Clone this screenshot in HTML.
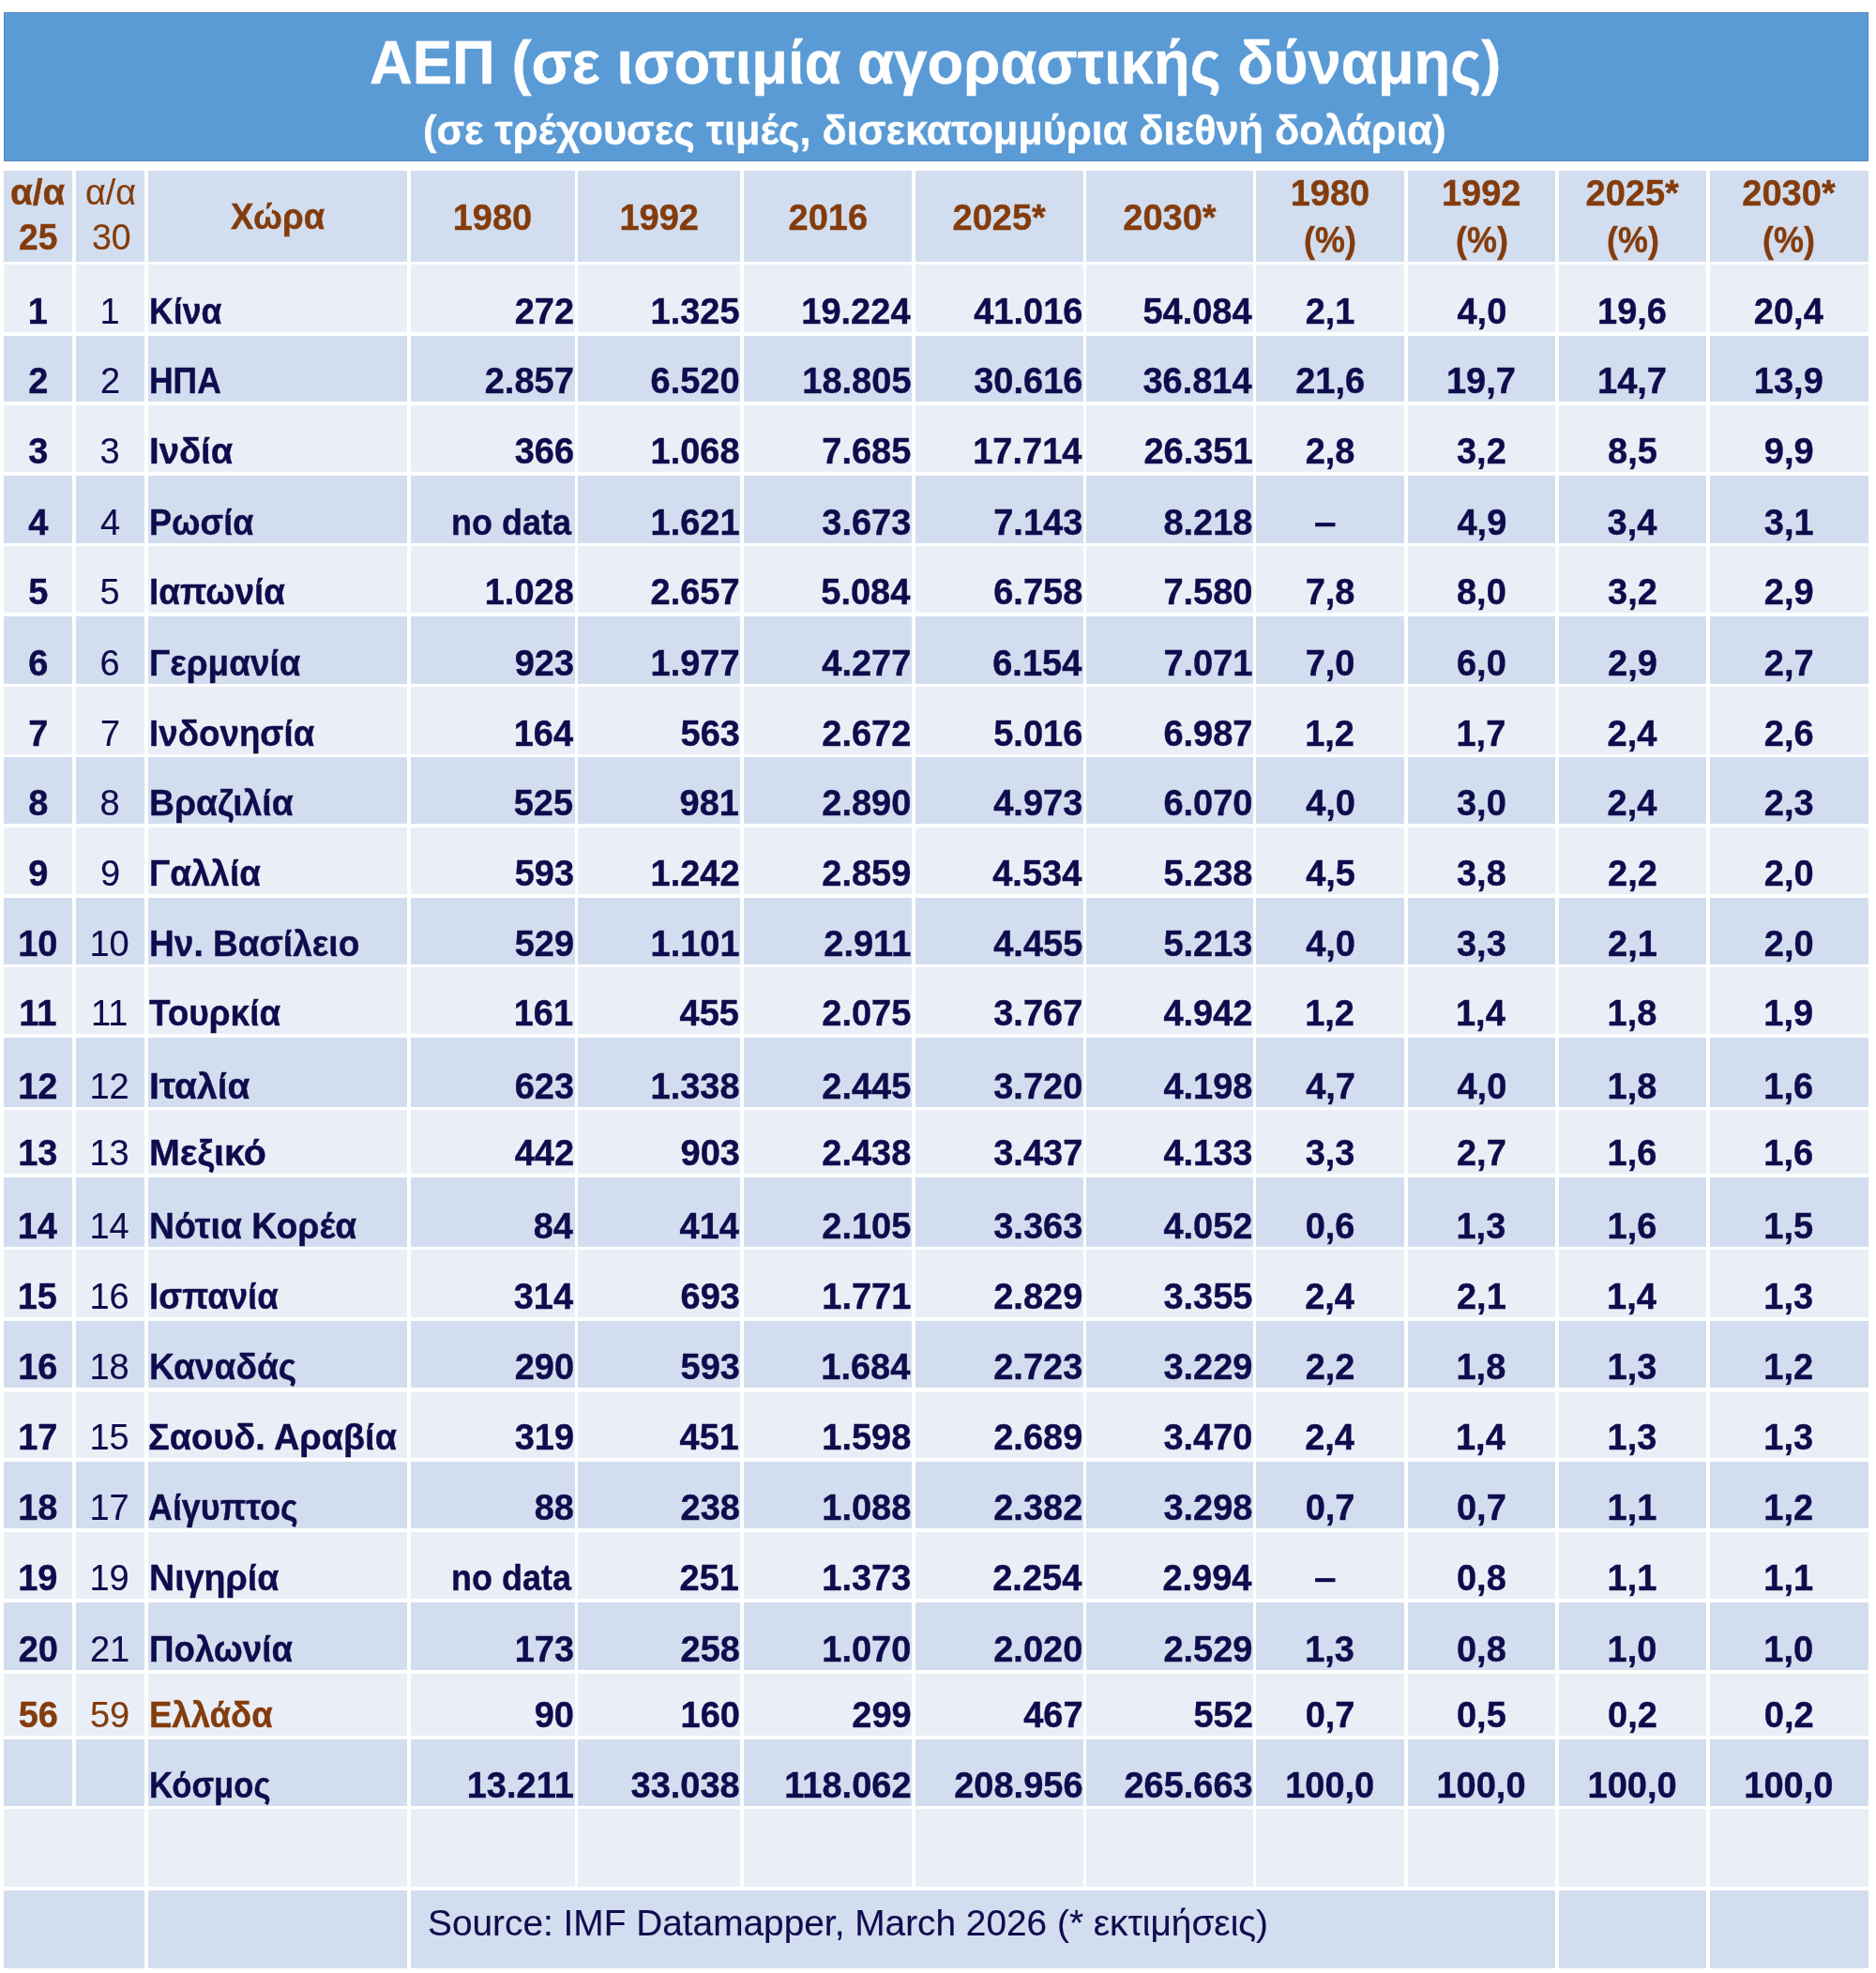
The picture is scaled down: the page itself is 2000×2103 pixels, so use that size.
<!DOCTYPE html>
<html><head><meta charset="utf-8"><title>ΑΕΠ</title>
<style>
html,body{margin:0;padding:0;background:#FFFFFF;}
body{width:2000px;height:2103px;position:relative;overflow:hidden;font-family:"Liberation Sans",sans-serif;}
.c{position:absolute;}
.t{position:absolute;white-space:nowrap;}
.b{font-weight:700;-webkit-text-stroke:0.40px currentColor;}
.r{font-weight:400;-webkit-text-stroke:0.15px currentColor;}
</style></head><body>
<div class="c" style="left:4.00px;top:13.00px;width:1988.00px;height:159.30px;background:#5B9BD5;box-shadow:inset 0 0 0 1px #5A88B8;"></div>
<div class="c" style="left:4.00px;top:182.00px;width:73.30px;height:96.50px;background:#D2DEEF;"></div>
<div class="c" style="left:80.80px;top:182.00px;width:73.20px;height:96.50px;background:#D2DEEF;"></div>
<div class="c" style="left:157.80px;top:182.00px;width:276.40px;height:96.50px;background:#D2DEEF;"></div>
<div class="c" style="left:437.70px;top:182.00px;width:175.00px;height:96.50px;background:#D2DEEF;"></div>
<div class="c" style="left:616.30px;top:182.00px;width:173.20px;height:96.50px;background:#D2DEEF;"></div>
<div class="c" style="left:792.70px;top:182.00px;width:179.60px;height:96.50px;background:#D2DEEF;"></div>
<div class="c" style="left:975.80px;top:182.00px;width:179.40px;height:96.50px;background:#D2DEEF;"></div>
<div class="c" style="left:1158.20px;top:182.00px;width:178.20px;height:96.50px;background:#D2DEEF;"></div>
<div class="c" style="left:1339.30px;top:182.00px;width:157.70px;height:96.50px;background:#D2DEEF;"></div>
<div class="c" style="left:1500.70px;top:182.00px;width:157.50px;height:96.50px;background:#D2DEEF;"></div>
<div class="c" style="left:1661.70px;top:182.00px;width:157.70px;height:96.50px;background:#D2DEEF;"></div>
<div class="c" style="left:1822.90px;top:182.00px;width:168.90px;height:96.50px;background:#D2DEEF;"></div>
<div class="c" style="left:4.00px;top:282.00px;width:73.30px;height:71.60px;background:#EAEFF7;"></div>
<div class="c" style="left:80.80px;top:282.00px;width:73.20px;height:71.60px;background:#EAEFF7;"></div>
<div class="c" style="left:157.80px;top:282.00px;width:276.40px;height:71.60px;background:#EAEFF7;"></div>
<div class="c" style="left:437.70px;top:282.00px;width:175.00px;height:71.60px;background:#EAEFF7;"></div>
<div class="c" style="left:616.30px;top:282.00px;width:173.20px;height:71.60px;background:#EAEFF7;"></div>
<div class="c" style="left:792.70px;top:282.00px;width:179.60px;height:71.60px;background:#EAEFF7;"></div>
<div class="c" style="left:975.80px;top:282.00px;width:179.40px;height:71.60px;background:#EAEFF7;"></div>
<div class="c" style="left:1158.20px;top:282.00px;width:178.20px;height:71.60px;background:#EAEFF7;"></div>
<div class="c" style="left:1339.30px;top:282.00px;width:157.70px;height:71.60px;background:#EAEFF7;"></div>
<div class="c" style="left:1500.70px;top:282.00px;width:157.50px;height:71.60px;background:#EAEFF7;"></div>
<div class="c" style="left:1661.70px;top:282.00px;width:157.70px;height:71.60px;background:#EAEFF7;"></div>
<div class="c" style="left:1822.90px;top:282.00px;width:168.90px;height:71.60px;background:#EAEFF7;"></div>
<div class="c" style="left:4.00px;top:357.50px;width:73.30px;height:70.90px;background:#D2DEEF;"></div>
<div class="c" style="left:80.80px;top:357.50px;width:73.20px;height:70.90px;background:#D2DEEF;"></div>
<div class="c" style="left:157.80px;top:357.50px;width:276.40px;height:70.90px;background:#D2DEEF;"></div>
<div class="c" style="left:437.70px;top:357.50px;width:175.00px;height:70.90px;background:#D2DEEF;"></div>
<div class="c" style="left:616.30px;top:357.50px;width:173.20px;height:70.90px;background:#D2DEEF;"></div>
<div class="c" style="left:792.70px;top:357.50px;width:179.60px;height:70.90px;background:#D2DEEF;"></div>
<div class="c" style="left:975.80px;top:357.50px;width:179.40px;height:70.90px;background:#D2DEEF;"></div>
<div class="c" style="left:1158.20px;top:357.50px;width:178.20px;height:70.90px;background:#D2DEEF;"></div>
<div class="c" style="left:1339.30px;top:357.50px;width:157.70px;height:70.90px;background:#D2DEEF;"></div>
<div class="c" style="left:1500.70px;top:357.50px;width:157.50px;height:70.90px;background:#D2DEEF;"></div>
<div class="c" style="left:1661.70px;top:357.50px;width:157.70px;height:70.90px;background:#D2DEEF;"></div>
<div class="c" style="left:1822.90px;top:357.50px;width:168.90px;height:70.90px;background:#D2DEEF;"></div>
<div class="c" style="left:4.00px;top:432.00px;width:73.30px;height:71.00px;background:#EAEFF7;"></div>
<div class="c" style="left:80.80px;top:432.00px;width:73.20px;height:71.00px;background:#EAEFF7;"></div>
<div class="c" style="left:157.80px;top:432.00px;width:276.40px;height:71.00px;background:#EAEFF7;"></div>
<div class="c" style="left:437.70px;top:432.00px;width:175.00px;height:71.00px;background:#EAEFF7;"></div>
<div class="c" style="left:616.30px;top:432.00px;width:173.20px;height:71.00px;background:#EAEFF7;"></div>
<div class="c" style="left:792.70px;top:432.00px;width:179.60px;height:71.00px;background:#EAEFF7;"></div>
<div class="c" style="left:975.80px;top:432.00px;width:179.40px;height:71.00px;background:#EAEFF7;"></div>
<div class="c" style="left:1158.20px;top:432.00px;width:178.20px;height:71.00px;background:#EAEFF7;"></div>
<div class="c" style="left:1339.30px;top:432.00px;width:157.70px;height:71.00px;background:#EAEFF7;"></div>
<div class="c" style="left:1500.70px;top:432.00px;width:157.50px;height:71.00px;background:#EAEFF7;"></div>
<div class="c" style="left:1661.70px;top:432.00px;width:157.70px;height:71.00px;background:#EAEFF7;"></div>
<div class="c" style="left:1822.90px;top:432.00px;width:168.90px;height:71.00px;background:#EAEFF7;"></div>
<div class="c" style="left:4.00px;top:506.80px;width:73.30px;height:72.00px;background:#D2DEEF;"></div>
<div class="c" style="left:80.80px;top:506.80px;width:73.20px;height:72.00px;background:#D2DEEF;"></div>
<div class="c" style="left:157.80px;top:506.80px;width:276.40px;height:72.00px;background:#D2DEEF;"></div>
<div class="c" style="left:437.70px;top:506.80px;width:175.00px;height:72.00px;background:#D2DEEF;"></div>
<div class="c" style="left:616.30px;top:506.80px;width:173.20px;height:72.00px;background:#D2DEEF;"></div>
<div class="c" style="left:792.70px;top:506.80px;width:179.60px;height:72.00px;background:#D2DEEF;"></div>
<div class="c" style="left:975.80px;top:506.80px;width:179.40px;height:72.00px;background:#D2DEEF;"></div>
<div class="c" style="left:1158.20px;top:506.80px;width:178.20px;height:72.00px;background:#D2DEEF;"></div>
<div class="c" style="left:1339.30px;top:506.80px;width:157.70px;height:72.00px;background:#D2DEEF;"></div>
<div class="c" style="left:1500.70px;top:506.80px;width:157.50px;height:72.00px;background:#D2DEEF;"></div>
<div class="c" style="left:1661.70px;top:506.80px;width:157.70px;height:72.00px;background:#D2DEEF;"></div>
<div class="c" style="left:1822.90px;top:506.80px;width:168.90px;height:72.00px;background:#D2DEEF;"></div>
<div class="c" style="left:4.00px;top:582.10px;width:73.30px;height:71.20px;background:#EAEFF7;"></div>
<div class="c" style="left:80.80px;top:582.10px;width:73.20px;height:71.20px;background:#EAEFF7;"></div>
<div class="c" style="left:157.80px;top:582.10px;width:276.40px;height:71.20px;background:#EAEFF7;"></div>
<div class="c" style="left:437.70px;top:582.10px;width:175.00px;height:71.20px;background:#EAEFF7;"></div>
<div class="c" style="left:616.30px;top:582.10px;width:173.20px;height:71.20px;background:#EAEFF7;"></div>
<div class="c" style="left:792.70px;top:582.10px;width:179.60px;height:71.20px;background:#EAEFF7;"></div>
<div class="c" style="left:975.80px;top:582.10px;width:179.40px;height:71.20px;background:#EAEFF7;"></div>
<div class="c" style="left:1158.20px;top:582.10px;width:178.20px;height:71.20px;background:#EAEFF7;"></div>
<div class="c" style="left:1339.30px;top:582.10px;width:157.70px;height:71.20px;background:#EAEFF7;"></div>
<div class="c" style="left:1500.70px;top:582.10px;width:157.50px;height:71.20px;background:#EAEFF7;"></div>
<div class="c" style="left:1661.70px;top:582.10px;width:157.70px;height:71.20px;background:#EAEFF7;"></div>
<div class="c" style="left:1822.90px;top:582.10px;width:168.90px;height:71.20px;background:#EAEFF7;"></div>
<div class="c" style="left:4.00px;top:656.60px;width:73.30px;height:72.20px;background:#D2DEEF;"></div>
<div class="c" style="left:80.80px;top:656.60px;width:73.20px;height:72.20px;background:#D2DEEF;"></div>
<div class="c" style="left:157.80px;top:656.60px;width:276.40px;height:72.20px;background:#D2DEEF;"></div>
<div class="c" style="left:437.70px;top:656.60px;width:175.00px;height:72.20px;background:#D2DEEF;"></div>
<div class="c" style="left:616.30px;top:656.60px;width:173.20px;height:72.20px;background:#D2DEEF;"></div>
<div class="c" style="left:792.70px;top:656.60px;width:179.60px;height:72.20px;background:#D2DEEF;"></div>
<div class="c" style="left:975.80px;top:656.60px;width:179.40px;height:72.20px;background:#D2DEEF;"></div>
<div class="c" style="left:1158.20px;top:656.60px;width:178.20px;height:72.20px;background:#D2DEEF;"></div>
<div class="c" style="left:1339.30px;top:656.60px;width:157.70px;height:72.20px;background:#D2DEEF;"></div>
<div class="c" style="left:1500.70px;top:656.60px;width:157.50px;height:72.20px;background:#D2DEEF;"></div>
<div class="c" style="left:1661.70px;top:656.60px;width:157.70px;height:72.20px;background:#D2DEEF;"></div>
<div class="c" style="left:1822.90px;top:656.60px;width:168.90px;height:72.20px;background:#D2DEEF;"></div>
<div class="c" style="left:4.00px;top:731.90px;width:73.30px;height:71.70px;background:#EAEFF7;"></div>
<div class="c" style="left:80.80px;top:731.90px;width:73.20px;height:71.70px;background:#EAEFF7;"></div>
<div class="c" style="left:157.80px;top:731.90px;width:276.40px;height:71.70px;background:#EAEFF7;"></div>
<div class="c" style="left:437.70px;top:731.90px;width:175.00px;height:71.70px;background:#EAEFF7;"></div>
<div class="c" style="left:616.30px;top:731.90px;width:173.20px;height:71.70px;background:#EAEFF7;"></div>
<div class="c" style="left:792.70px;top:731.90px;width:179.60px;height:71.70px;background:#EAEFF7;"></div>
<div class="c" style="left:975.80px;top:731.90px;width:179.40px;height:71.70px;background:#EAEFF7;"></div>
<div class="c" style="left:1158.20px;top:731.90px;width:178.20px;height:71.70px;background:#EAEFF7;"></div>
<div class="c" style="left:1339.30px;top:731.90px;width:157.70px;height:71.70px;background:#EAEFF7;"></div>
<div class="c" style="left:1500.70px;top:731.90px;width:157.50px;height:71.70px;background:#EAEFF7;"></div>
<div class="c" style="left:1661.70px;top:731.90px;width:157.70px;height:71.70px;background:#EAEFF7;"></div>
<div class="c" style="left:1822.90px;top:731.90px;width:168.90px;height:71.70px;background:#EAEFF7;"></div>
<div class="c" style="left:4.00px;top:807.40px;width:73.30px;height:71.10px;background:#D2DEEF;"></div>
<div class="c" style="left:80.80px;top:807.40px;width:73.20px;height:71.10px;background:#D2DEEF;"></div>
<div class="c" style="left:157.80px;top:807.40px;width:276.40px;height:71.10px;background:#D2DEEF;"></div>
<div class="c" style="left:437.70px;top:807.40px;width:175.00px;height:71.10px;background:#D2DEEF;"></div>
<div class="c" style="left:616.30px;top:807.40px;width:173.20px;height:71.10px;background:#D2DEEF;"></div>
<div class="c" style="left:792.70px;top:807.40px;width:179.60px;height:71.10px;background:#D2DEEF;"></div>
<div class="c" style="left:975.80px;top:807.40px;width:179.40px;height:71.10px;background:#D2DEEF;"></div>
<div class="c" style="left:1158.20px;top:807.40px;width:178.20px;height:71.10px;background:#D2DEEF;"></div>
<div class="c" style="left:1339.30px;top:807.40px;width:157.70px;height:71.10px;background:#D2DEEF;"></div>
<div class="c" style="left:1500.70px;top:807.40px;width:157.50px;height:71.10px;background:#D2DEEF;"></div>
<div class="c" style="left:1661.70px;top:807.40px;width:157.70px;height:71.10px;background:#D2DEEF;"></div>
<div class="c" style="left:1822.90px;top:807.40px;width:168.90px;height:71.10px;background:#D2DEEF;"></div>
<div class="c" style="left:4.00px;top:882.20px;width:73.30px;height:71.10px;background:#EAEFF7;"></div>
<div class="c" style="left:80.80px;top:882.20px;width:73.20px;height:71.10px;background:#EAEFF7;"></div>
<div class="c" style="left:157.80px;top:882.20px;width:276.40px;height:71.10px;background:#EAEFF7;"></div>
<div class="c" style="left:437.70px;top:882.20px;width:175.00px;height:71.10px;background:#EAEFF7;"></div>
<div class="c" style="left:616.30px;top:882.20px;width:173.20px;height:71.10px;background:#EAEFF7;"></div>
<div class="c" style="left:792.70px;top:882.20px;width:179.60px;height:71.10px;background:#EAEFF7;"></div>
<div class="c" style="left:975.80px;top:882.20px;width:179.40px;height:71.10px;background:#EAEFF7;"></div>
<div class="c" style="left:1158.20px;top:882.20px;width:178.20px;height:71.10px;background:#EAEFF7;"></div>
<div class="c" style="left:1339.30px;top:882.20px;width:157.70px;height:71.10px;background:#EAEFF7;"></div>
<div class="c" style="left:1500.70px;top:882.20px;width:157.50px;height:71.10px;background:#EAEFF7;"></div>
<div class="c" style="left:1661.70px;top:882.20px;width:157.70px;height:71.10px;background:#EAEFF7;"></div>
<div class="c" style="left:1822.90px;top:882.20px;width:168.90px;height:71.10px;background:#EAEFF7;"></div>
<div class="c" style="left:4.00px;top:957.10px;width:73.30px;height:70.60px;background:#D2DEEF;"></div>
<div class="c" style="left:80.80px;top:957.10px;width:73.20px;height:70.60px;background:#D2DEEF;"></div>
<div class="c" style="left:157.80px;top:957.10px;width:276.40px;height:70.60px;background:#D2DEEF;"></div>
<div class="c" style="left:437.70px;top:957.10px;width:175.00px;height:70.60px;background:#D2DEEF;"></div>
<div class="c" style="left:616.30px;top:957.10px;width:173.20px;height:70.60px;background:#D2DEEF;"></div>
<div class="c" style="left:792.70px;top:957.10px;width:179.60px;height:70.60px;background:#D2DEEF;"></div>
<div class="c" style="left:975.80px;top:957.10px;width:179.40px;height:70.60px;background:#D2DEEF;"></div>
<div class="c" style="left:1158.20px;top:957.10px;width:178.20px;height:70.60px;background:#D2DEEF;"></div>
<div class="c" style="left:1339.30px;top:957.10px;width:157.70px;height:70.60px;background:#D2DEEF;"></div>
<div class="c" style="left:1500.70px;top:957.10px;width:157.50px;height:70.60px;background:#D2DEEF;"></div>
<div class="c" style="left:1661.70px;top:957.10px;width:157.70px;height:70.60px;background:#D2DEEF;"></div>
<div class="c" style="left:1822.90px;top:957.10px;width:168.90px;height:70.60px;background:#D2DEEF;"></div>
<div class="c" style="left:4.00px;top:1031.30px;width:73.30px;height:70.50px;background:#EAEFF7;"></div>
<div class="c" style="left:80.80px;top:1031.30px;width:73.20px;height:70.50px;background:#EAEFF7;"></div>
<div class="c" style="left:157.80px;top:1031.30px;width:276.40px;height:70.50px;background:#EAEFF7;"></div>
<div class="c" style="left:437.70px;top:1031.30px;width:175.00px;height:70.50px;background:#EAEFF7;"></div>
<div class="c" style="left:616.30px;top:1031.30px;width:173.20px;height:70.50px;background:#EAEFF7;"></div>
<div class="c" style="left:792.70px;top:1031.30px;width:179.60px;height:70.50px;background:#EAEFF7;"></div>
<div class="c" style="left:975.80px;top:1031.30px;width:179.40px;height:70.50px;background:#EAEFF7;"></div>
<div class="c" style="left:1158.20px;top:1031.30px;width:178.20px;height:70.50px;background:#EAEFF7;"></div>
<div class="c" style="left:1339.30px;top:1031.30px;width:157.70px;height:70.50px;background:#EAEFF7;"></div>
<div class="c" style="left:1500.70px;top:1031.30px;width:157.50px;height:70.50px;background:#EAEFF7;"></div>
<div class="c" style="left:1661.70px;top:1031.30px;width:157.70px;height:70.50px;background:#EAEFF7;"></div>
<div class="c" style="left:1822.90px;top:1031.30px;width:168.90px;height:70.50px;background:#EAEFF7;"></div>
<div class="c" style="left:4.00px;top:1105.50px;width:73.30px;height:74.10px;background:#D2DEEF;"></div>
<div class="c" style="left:80.80px;top:1105.50px;width:73.20px;height:74.10px;background:#D2DEEF;"></div>
<div class="c" style="left:157.80px;top:1105.50px;width:276.40px;height:74.10px;background:#D2DEEF;"></div>
<div class="c" style="left:437.70px;top:1105.50px;width:175.00px;height:74.10px;background:#D2DEEF;"></div>
<div class="c" style="left:616.30px;top:1105.50px;width:173.20px;height:74.10px;background:#D2DEEF;"></div>
<div class="c" style="left:792.70px;top:1105.50px;width:179.60px;height:74.10px;background:#D2DEEF;"></div>
<div class="c" style="left:975.80px;top:1105.50px;width:179.40px;height:74.10px;background:#D2DEEF;"></div>
<div class="c" style="left:1158.20px;top:1105.50px;width:178.20px;height:74.10px;background:#D2DEEF;"></div>
<div class="c" style="left:1339.30px;top:1105.50px;width:157.70px;height:74.10px;background:#D2DEEF;"></div>
<div class="c" style="left:1500.70px;top:1105.50px;width:157.50px;height:74.10px;background:#D2DEEF;"></div>
<div class="c" style="left:1661.70px;top:1105.50px;width:157.70px;height:74.10px;background:#D2DEEF;"></div>
<div class="c" style="left:1822.90px;top:1105.50px;width:168.90px;height:74.10px;background:#D2DEEF;"></div>
<div class="c" style="left:4.00px;top:1183.40px;width:73.30px;height:67.60px;background:#EAEFF7;"></div>
<div class="c" style="left:80.80px;top:1183.40px;width:73.20px;height:67.60px;background:#EAEFF7;"></div>
<div class="c" style="left:157.80px;top:1183.40px;width:276.40px;height:67.60px;background:#EAEFF7;"></div>
<div class="c" style="left:437.70px;top:1183.40px;width:175.00px;height:67.60px;background:#EAEFF7;"></div>
<div class="c" style="left:616.30px;top:1183.40px;width:173.20px;height:67.60px;background:#EAEFF7;"></div>
<div class="c" style="left:792.70px;top:1183.40px;width:179.60px;height:67.60px;background:#EAEFF7;"></div>
<div class="c" style="left:975.80px;top:1183.40px;width:179.40px;height:67.60px;background:#EAEFF7;"></div>
<div class="c" style="left:1158.20px;top:1183.40px;width:178.20px;height:67.60px;background:#EAEFF7;"></div>
<div class="c" style="left:1339.30px;top:1183.40px;width:157.70px;height:67.60px;background:#EAEFF7;"></div>
<div class="c" style="left:1500.70px;top:1183.40px;width:157.50px;height:67.60px;background:#EAEFF7;"></div>
<div class="c" style="left:1661.70px;top:1183.40px;width:157.70px;height:67.60px;background:#EAEFF7;"></div>
<div class="c" style="left:1822.90px;top:1183.40px;width:168.90px;height:67.60px;background:#EAEFF7;"></div>
<div class="c" style="left:4.00px;top:1254.90px;width:73.30px;height:73.70px;background:#D2DEEF;"></div>
<div class="c" style="left:80.80px;top:1254.90px;width:73.20px;height:73.70px;background:#D2DEEF;"></div>
<div class="c" style="left:157.80px;top:1254.90px;width:276.40px;height:73.70px;background:#D2DEEF;"></div>
<div class="c" style="left:437.70px;top:1254.90px;width:175.00px;height:73.70px;background:#D2DEEF;"></div>
<div class="c" style="left:616.30px;top:1254.90px;width:173.20px;height:73.70px;background:#D2DEEF;"></div>
<div class="c" style="left:792.70px;top:1254.90px;width:179.60px;height:73.70px;background:#D2DEEF;"></div>
<div class="c" style="left:975.80px;top:1254.90px;width:179.40px;height:73.70px;background:#D2DEEF;"></div>
<div class="c" style="left:1158.20px;top:1254.90px;width:178.20px;height:73.70px;background:#D2DEEF;"></div>
<div class="c" style="left:1339.30px;top:1254.90px;width:157.70px;height:73.70px;background:#D2DEEF;"></div>
<div class="c" style="left:1500.70px;top:1254.90px;width:157.50px;height:73.70px;background:#D2DEEF;"></div>
<div class="c" style="left:1661.70px;top:1254.90px;width:157.70px;height:73.70px;background:#D2DEEF;"></div>
<div class="c" style="left:1822.90px;top:1254.90px;width:168.90px;height:73.70px;background:#D2DEEF;"></div>
<div class="c" style="left:4.00px;top:1332.00px;width:73.30px;height:71.90px;background:#EAEFF7;"></div>
<div class="c" style="left:80.80px;top:1332.00px;width:73.20px;height:71.90px;background:#EAEFF7;"></div>
<div class="c" style="left:157.80px;top:1332.00px;width:276.40px;height:71.90px;background:#EAEFF7;"></div>
<div class="c" style="left:437.70px;top:1332.00px;width:175.00px;height:71.90px;background:#EAEFF7;"></div>
<div class="c" style="left:616.30px;top:1332.00px;width:173.20px;height:71.90px;background:#EAEFF7;"></div>
<div class="c" style="left:792.70px;top:1332.00px;width:179.60px;height:71.90px;background:#EAEFF7;"></div>
<div class="c" style="left:975.80px;top:1332.00px;width:179.40px;height:71.90px;background:#EAEFF7;"></div>
<div class="c" style="left:1158.20px;top:1332.00px;width:178.20px;height:71.90px;background:#EAEFF7;"></div>
<div class="c" style="left:1339.30px;top:1332.00px;width:157.70px;height:71.90px;background:#EAEFF7;"></div>
<div class="c" style="left:1500.70px;top:1332.00px;width:157.50px;height:71.90px;background:#EAEFF7;"></div>
<div class="c" style="left:1661.70px;top:1332.00px;width:157.70px;height:71.90px;background:#EAEFF7;"></div>
<div class="c" style="left:1822.90px;top:1332.00px;width:168.90px;height:71.90px;background:#EAEFF7;"></div>
<div class="c" style="left:4.00px;top:1407.70px;width:73.30px;height:71.80px;background:#D2DEEF;"></div>
<div class="c" style="left:80.80px;top:1407.70px;width:73.20px;height:71.80px;background:#D2DEEF;"></div>
<div class="c" style="left:157.80px;top:1407.70px;width:276.40px;height:71.80px;background:#D2DEEF;"></div>
<div class="c" style="left:437.70px;top:1407.70px;width:175.00px;height:71.80px;background:#D2DEEF;"></div>
<div class="c" style="left:616.30px;top:1407.70px;width:173.20px;height:71.80px;background:#D2DEEF;"></div>
<div class="c" style="left:792.70px;top:1407.70px;width:179.60px;height:71.80px;background:#D2DEEF;"></div>
<div class="c" style="left:975.80px;top:1407.70px;width:179.40px;height:71.80px;background:#D2DEEF;"></div>
<div class="c" style="left:1158.20px;top:1407.70px;width:178.20px;height:71.80px;background:#D2DEEF;"></div>
<div class="c" style="left:1339.30px;top:1407.70px;width:157.70px;height:71.80px;background:#D2DEEF;"></div>
<div class="c" style="left:1500.70px;top:1407.70px;width:157.50px;height:71.80px;background:#D2DEEF;"></div>
<div class="c" style="left:1661.70px;top:1407.70px;width:157.70px;height:71.80px;background:#D2DEEF;"></div>
<div class="c" style="left:1822.90px;top:1407.70px;width:168.90px;height:71.80px;background:#D2DEEF;"></div>
<div class="c" style="left:4.00px;top:1483.50px;width:73.30px;height:70.60px;background:#EAEFF7;"></div>
<div class="c" style="left:80.80px;top:1483.50px;width:73.20px;height:70.60px;background:#EAEFF7;"></div>
<div class="c" style="left:157.80px;top:1483.50px;width:276.40px;height:70.60px;background:#EAEFF7;"></div>
<div class="c" style="left:437.70px;top:1483.50px;width:175.00px;height:70.60px;background:#EAEFF7;"></div>
<div class="c" style="left:616.30px;top:1483.50px;width:173.20px;height:70.60px;background:#EAEFF7;"></div>
<div class="c" style="left:792.70px;top:1483.50px;width:179.60px;height:70.60px;background:#EAEFF7;"></div>
<div class="c" style="left:975.80px;top:1483.50px;width:179.40px;height:70.60px;background:#EAEFF7;"></div>
<div class="c" style="left:1158.20px;top:1483.50px;width:178.20px;height:70.60px;background:#EAEFF7;"></div>
<div class="c" style="left:1339.30px;top:1483.50px;width:157.70px;height:70.60px;background:#EAEFF7;"></div>
<div class="c" style="left:1500.70px;top:1483.50px;width:157.50px;height:70.60px;background:#EAEFF7;"></div>
<div class="c" style="left:1661.70px;top:1483.50px;width:157.70px;height:70.60px;background:#EAEFF7;"></div>
<div class="c" style="left:1822.90px;top:1483.50px;width:168.90px;height:70.60px;background:#EAEFF7;"></div>
<div class="c" style="left:4.00px;top:1558.20px;width:73.30px;height:70.70px;background:#D2DEEF;"></div>
<div class="c" style="left:80.80px;top:1558.20px;width:73.20px;height:70.70px;background:#D2DEEF;"></div>
<div class="c" style="left:157.80px;top:1558.20px;width:276.40px;height:70.70px;background:#D2DEEF;"></div>
<div class="c" style="left:437.70px;top:1558.20px;width:175.00px;height:70.70px;background:#D2DEEF;"></div>
<div class="c" style="left:616.30px;top:1558.20px;width:173.20px;height:70.70px;background:#D2DEEF;"></div>
<div class="c" style="left:792.70px;top:1558.20px;width:179.60px;height:70.70px;background:#D2DEEF;"></div>
<div class="c" style="left:975.80px;top:1558.20px;width:179.40px;height:70.70px;background:#D2DEEF;"></div>
<div class="c" style="left:1158.20px;top:1558.20px;width:178.20px;height:70.70px;background:#D2DEEF;"></div>
<div class="c" style="left:1339.30px;top:1558.20px;width:157.70px;height:70.70px;background:#D2DEEF;"></div>
<div class="c" style="left:1500.70px;top:1558.20px;width:157.50px;height:70.70px;background:#D2DEEF;"></div>
<div class="c" style="left:1661.70px;top:1558.20px;width:157.70px;height:70.70px;background:#D2DEEF;"></div>
<div class="c" style="left:1822.90px;top:1558.20px;width:168.90px;height:70.70px;background:#D2DEEF;"></div>
<div class="c" style="left:4.00px;top:1632.70px;width:73.30px;height:71.70px;background:#EAEFF7;"></div>
<div class="c" style="left:80.80px;top:1632.70px;width:73.20px;height:71.70px;background:#EAEFF7;"></div>
<div class="c" style="left:157.80px;top:1632.70px;width:276.40px;height:71.70px;background:#EAEFF7;"></div>
<div class="c" style="left:437.70px;top:1632.70px;width:175.00px;height:71.70px;background:#EAEFF7;"></div>
<div class="c" style="left:616.30px;top:1632.70px;width:173.20px;height:71.70px;background:#EAEFF7;"></div>
<div class="c" style="left:792.70px;top:1632.70px;width:179.60px;height:71.70px;background:#EAEFF7;"></div>
<div class="c" style="left:975.80px;top:1632.70px;width:179.40px;height:71.70px;background:#EAEFF7;"></div>
<div class="c" style="left:1158.20px;top:1632.70px;width:178.20px;height:71.70px;background:#EAEFF7;"></div>
<div class="c" style="left:1339.30px;top:1632.70px;width:157.70px;height:71.70px;background:#EAEFF7;"></div>
<div class="c" style="left:1500.70px;top:1632.70px;width:157.50px;height:71.70px;background:#EAEFF7;"></div>
<div class="c" style="left:1661.70px;top:1632.70px;width:157.70px;height:71.70px;background:#EAEFF7;"></div>
<div class="c" style="left:1822.90px;top:1632.70px;width:168.90px;height:71.70px;background:#EAEFF7;"></div>
<div class="c" style="left:4.00px;top:1708.40px;width:73.30px;height:71.80px;background:#D2DEEF;"></div>
<div class="c" style="left:80.80px;top:1708.40px;width:73.20px;height:71.80px;background:#D2DEEF;"></div>
<div class="c" style="left:157.80px;top:1708.40px;width:276.40px;height:71.80px;background:#D2DEEF;"></div>
<div class="c" style="left:437.70px;top:1708.40px;width:175.00px;height:71.80px;background:#D2DEEF;"></div>
<div class="c" style="left:616.30px;top:1708.40px;width:173.20px;height:71.80px;background:#D2DEEF;"></div>
<div class="c" style="left:792.70px;top:1708.40px;width:179.60px;height:71.80px;background:#D2DEEF;"></div>
<div class="c" style="left:975.80px;top:1708.40px;width:179.40px;height:71.80px;background:#D2DEEF;"></div>
<div class="c" style="left:1158.20px;top:1708.40px;width:178.20px;height:71.80px;background:#D2DEEF;"></div>
<div class="c" style="left:1339.30px;top:1708.40px;width:157.70px;height:71.80px;background:#D2DEEF;"></div>
<div class="c" style="left:1500.70px;top:1708.40px;width:157.50px;height:71.80px;background:#D2DEEF;"></div>
<div class="c" style="left:1661.70px;top:1708.40px;width:157.70px;height:71.80px;background:#D2DEEF;"></div>
<div class="c" style="left:1822.90px;top:1708.40px;width:168.90px;height:71.80px;background:#D2DEEF;"></div>
<div class="c" style="left:4.00px;top:1784.00px;width:73.30px;height:66.00px;background:#EAEFF7;"></div>
<div class="c" style="left:80.80px;top:1784.00px;width:73.20px;height:66.00px;background:#EAEFF7;"></div>
<div class="c" style="left:157.80px;top:1784.00px;width:276.40px;height:66.00px;background:#EAEFF7;"></div>
<div class="c" style="left:437.70px;top:1784.00px;width:175.00px;height:66.00px;background:#EAEFF7;"></div>
<div class="c" style="left:616.30px;top:1784.00px;width:173.20px;height:66.00px;background:#EAEFF7;"></div>
<div class="c" style="left:792.70px;top:1784.00px;width:179.60px;height:66.00px;background:#EAEFF7;"></div>
<div class="c" style="left:975.80px;top:1784.00px;width:179.40px;height:66.00px;background:#EAEFF7;"></div>
<div class="c" style="left:1158.20px;top:1784.00px;width:178.20px;height:66.00px;background:#EAEFF7;"></div>
<div class="c" style="left:1339.30px;top:1784.00px;width:157.70px;height:66.00px;background:#EAEFF7;"></div>
<div class="c" style="left:1500.70px;top:1784.00px;width:157.50px;height:66.00px;background:#EAEFF7;"></div>
<div class="c" style="left:1661.70px;top:1784.00px;width:157.70px;height:66.00px;background:#EAEFF7;"></div>
<div class="c" style="left:1822.90px;top:1784.00px;width:168.90px;height:66.00px;background:#EAEFF7;"></div>
<div class="c" style="left:4.00px;top:1853.50px;width:73.30px;height:71.50px;background:#D2DEEF;"></div>
<div class="c" style="left:80.80px;top:1853.50px;width:73.20px;height:71.50px;background:#D2DEEF;"></div>
<div class="c" style="left:157.80px;top:1853.50px;width:276.40px;height:71.50px;background:#D2DEEF;"></div>
<div class="c" style="left:437.70px;top:1853.50px;width:175.00px;height:71.50px;background:#D2DEEF;"></div>
<div class="c" style="left:616.30px;top:1853.50px;width:173.20px;height:71.50px;background:#D2DEEF;"></div>
<div class="c" style="left:792.70px;top:1853.50px;width:179.60px;height:71.50px;background:#D2DEEF;"></div>
<div class="c" style="left:975.80px;top:1853.50px;width:179.40px;height:71.50px;background:#D2DEEF;"></div>
<div class="c" style="left:1158.20px;top:1853.50px;width:178.20px;height:71.50px;background:#D2DEEF;"></div>
<div class="c" style="left:1339.30px;top:1853.50px;width:157.70px;height:71.50px;background:#D2DEEF;"></div>
<div class="c" style="left:1500.70px;top:1853.50px;width:157.50px;height:71.50px;background:#D2DEEF;"></div>
<div class="c" style="left:1661.70px;top:1853.50px;width:157.70px;height:71.50px;background:#D2DEEF;"></div>
<div class="c" style="left:1822.90px;top:1853.50px;width:168.90px;height:71.50px;background:#D2DEEF;"></div>
<div class="c" style="left:4.00px;top:1928.00px;width:150.00px;height:83.20px;background:#EAEFF7;"></div>
<div class="c" style="left:157.80px;top:1928.00px;width:276.40px;height:83.20px;background:#EAEFF7;"></div>
<div class="c" style="left:437.70px;top:1928.00px;width:175.00px;height:83.20px;background:#EAEFF7;"></div>
<div class="c" style="left:616.30px;top:1928.00px;width:173.20px;height:83.20px;background:#EAEFF7;"></div>
<div class="c" style="left:792.70px;top:1928.00px;width:179.60px;height:83.20px;background:#EAEFF7;"></div>
<div class="c" style="left:975.80px;top:1928.00px;width:179.40px;height:83.20px;background:#EAEFF7;"></div>
<div class="c" style="left:1158.20px;top:1928.00px;width:178.20px;height:83.20px;background:#EAEFF7;"></div>
<div class="c" style="left:1339.30px;top:1928.00px;width:157.70px;height:83.20px;background:#EAEFF7;"></div>
<div class="c" style="left:1500.70px;top:1928.00px;width:157.50px;height:83.20px;background:#EAEFF7;"></div>
<div class="c" style="left:1661.70px;top:1928.00px;width:157.70px;height:83.20px;background:#EAEFF7;"></div>
<div class="c" style="left:1822.90px;top:1928.00px;width:168.90px;height:83.20px;background:#EAEFF7;"></div>
<div class="c" style="left:4.00px;top:2014.70px;width:150.00px;height:83.30px;background:#D2DEEF;"></div>
<div class="c" style="left:157.80px;top:2014.70px;width:276.40px;height:83.30px;background:#D2DEEF;"></div>
<div class="c" style="left:437.70px;top:2014.70px;width:1220.50px;height:83.30px;background:#D2DEEF;"></div>
<div class="c" style="left:1661.70px;top:2014.70px;width:157.70px;height:83.30px;background:#D2DEEF;"></div>
<div class="c" style="left:1822.90px;top:2014.70px;width:168.90px;height:83.30px;background:#D2DEEF;"></div>
<div id="tl" style="position:absolute;left:0;top:0;width:2000px;height:2103px;will-change:transform;">
<div class="t b" id="t0" style="left:394.02px;top:34.55px;transform:scaleX(0.9780);transform-origin:0 0;font-size:64.80px;line-height:64.80px;color:#FFFFFF">ΑΕΠ (σε ισοτιμία αγοραστικής δύναμης)</div>
<div class="t b" id="t1" style="left:451.43px;top:117.45px;transform:scaleX(0.9833);transform-origin:0 0;font-size:44.00px;line-height:44.00px;color:#FFFFFF">(σε τρέχουσες τιμές, δισεκατομμύρια διεθνή δολάρια)</div>
<div class="t b" id="t2" style="left:11.18px;top:185.73px;transform:scaleX(1.0179);transform-origin:0 0;font-size:38.00px;line-height:38.00px;color:#843C0C">α/α</div>
<div class="t b" id="t3" style="left:19.62px;top:233.83px;transform:scaleX(0.9800);transform-origin:0 0;font-size:38.00px;line-height:38.00px;color:#843C0C">25</div>
<div class="t r" id="t4" style="left:90.91px;top:185.73px;transform:scaleX(0.9923);transform-origin:0 0;font-size:38.00px;line-height:38.00px;color:#843C0C">α/α</div>
<div class="t r" id="t5" style="left:97.52px;top:233.83px;transform:scaleX(0.9850);transform-origin:0 0;font-size:38.00px;line-height:38.00px;color:#843C0C">30</div>
<div class="t b" id="t6" style="left:245.80px;top:212.03px;transform:scaleX(0.9650);transform-origin:0 0;font-size:38.00px;line-height:38.00px;color:#843C0C">Χώρα</div>
<div class="t b" id="t7" style="left:482.70px;top:212.83px;font-size:38.00px;line-height:38.00px;color:#843C0C">1980</div>
<div class="t b" id="t8" style="left:660.40px;top:212.83px;font-size:38.00px;line-height:38.00px;color:#843C0C">1992</div>
<div class="t b" id="t9" style="left:840.50px;top:212.83px;font-size:38.00px;line-height:38.00px;color:#843C0C">2016</div>
<div class="t b" id="t10" style="left:1015.50px;top:212.83px;font-size:38.00px;line-height:38.00px;color:#843C0C">2025*</div>
<div class="t b" id="t11" style="left:1197.30px;top:212.83px;font-size:38.00px;line-height:38.00px;color:#843C0C">2030*</div>
<div class="t b" id="t12" style="left:1375.65px;top:187.13px;font-size:38.00px;line-height:38.00px;color:#843C0C">1980</div>
<div class="t b" id="t13" style="left:1390.26px;top:236.83px;transform:scaleX(0.9455);transform-origin:0 0;font-size:38.00px;line-height:38.00px;color:#843C0C">(%)</div>
<div class="t b" id="t14" style="left:1536.95px;top:187.13px;font-size:38.00px;line-height:38.00px;color:#843C0C">1992</div>
<div class="t b" id="t15" style="left:1551.56px;top:236.83px;transform:scaleX(0.9455);transform-origin:0 0;font-size:38.00px;line-height:38.00px;color:#843C0C">(%)</div>
<div class="t b" id="t16" style="left:1690.55px;top:187.13px;font-size:38.00px;line-height:38.00px;color:#843C0C">2025*</div>
<div class="t b" id="t17" style="left:1712.66px;top:236.83px;transform:scaleX(0.9455);transform-origin:0 0;font-size:38.00px;line-height:38.00px;color:#843C0C">(%)</div>
<div class="t b" id="t18" style="left:1857.35px;top:187.13px;font-size:38.00px;line-height:38.00px;color:#843C0C">2030*</div>
<div class="t b" id="t19" style="left:1879.46px;top:236.83px;transform:scaleX(0.9455);transform-origin:0 0;font-size:38.00px;line-height:38.00px;color:#843C0C">(%)</div>
<div class="t b" id="t20" style="left:29.65px;top:312.53px;font-size:38.00px;line-height:38.00px;color:#0F0C4D">1</div>
<div class="t r" id="t21" style="left:106.40px;top:312.53px;font-size:38.00px;line-height:38.00px;color:#0F0C4D">1</div>
<div class="t b" id="t22" style="left:158.92px;top:312.53px;transform:scaleX(0.9387);transform-origin:0 0;font-size:38.00px;line-height:38.00px;color:#0F0C4D">Κίνα</div>
<div class="t b" id="t23" style="left:548.70px;top:312.53px;font-size:38.00px;line-height:38.00px;color:#0F0C4D">272</div>
<div class="t b" id="t24" style="left:693.50px;top:312.53px;font-size:38.00px;line-height:38.00px;color:#0F0C4D">1.325</div>
<div class="t b" id="t25" style="left:854.30px;top:312.53px;font-size:38.00px;line-height:38.00px;color:#0F0C4D">19.224</div>
<div class="t b" id="t26" style="left:1038.20px;top:312.53px;font-size:38.00px;line-height:38.00px;color:#0F0C4D">41.016</div>
<div class="t b" id="t27" style="left:1218.40px;top:312.53px;font-size:38.00px;line-height:38.00px;color:#0F0C4D">54.084</div>
<div class="t b" id="t28" style="left:1391.65px;top:312.53px;font-size:38.00px;line-height:38.00px;color:#0F0C4D">2,1</div>
<div class="t b" id="t29" style="left:1553.45px;top:312.53px;font-size:38.00px;line-height:38.00px;color:#0F0C4D">4,0</div>
<div class="t b" id="t30" style="left:1703.05px;top:312.53px;font-size:38.00px;line-height:38.00px;color:#0F0C4D">19,6</div>
<div class="t b" id="t31" style="left:1869.85px;top:312.53px;font-size:38.00px;line-height:38.00px;color:#0F0C4D">20,4</div>
<div class="t b" id="t32" style="left:30.15px;top:387.33px;font-size:38.00px;line-height:38.00px;color:#0F0C4D">2</div>
<div class="t r" id="t33" style="left:106.90px;top:387.33px;font-size:38.00px;line-height:38.00px;color:#0F0C4D">2</div>
<div class="t b" id="t34" style="left:158.93px;top:387.33px;transform:scaleX(0.9337);transform-origin:0 0;font-size:38.00px;line-height:38.00px;color:#0F0C4D">ΗΠΑ</div>
<div class="t b" id="t35" style="left:516.70px;top:387.33px;font-size:38.00px;line-height:38.00px;color:#0F0C4D">2.857</div>
<div class="t b" id="t36" style="left:693.50px;top:387.33px;font-size:38.00px;line-height:38.00px;color:#0F0C4D">6.520</div>
<div class="t b" id="t37" style="left:855.30px;top:387.33px;font-size:38.00px;line-height:38.00px;color:#0F0C4D">18.805</div>
<div class="t b" id="t38" style="left:1038.20px;top:387.33px;font-size:38.00px;line-height:38.00px;color:#0F0C4D">30.616</div>
<div class="t b" id="t39" style="left:1218.40px;top:387.33px;font-size:38.00px;line-height:38.00px;color:#0F0C4D">36.814</div>
<div class="t b" id="t40" style="left:1381.15px;top:387.33px;font-size:38.00px;line-height:38.00px;color:#0F0C4D">21,6</div>
<div class="t b" id="t41" style="left:1541.95px;top:387.33px;font-size:38.00px;line-height:38.00px;color:#0F0C4D">19,7</div>
<div class="t b" id="t42" style="left:1703.05px;top:387.33px;font-size:38.00px;line-height:38.00px;color:#0F0C4D">14,7</div>
<div class="t b" id="t43" style="left:1869.85px;top:387.33px;font-size:38.00px;line-height:38.00px;color:#0F0C4D">13,9</div>
<div class="t b" id="t44" style="left:30.15px;top:461.93px;font-size:38.00px;line-height:38.00px;color:#0F0C4D">3</div>
<div class="t r" id="t45" style="left:106.40px;top:461.93px;font-size:38.00px;line-height:38.00px;color:#0F0C4D">3</div>
<div class="t b" id="t46" style="left:158.79px;top:461.93px;transform:scaleX(1.0070);transform-origin:0 0;font-size:38.00px;line-height:38.00px;color:#0F0C4D">Ινδία</div>
<div class="t b" id="t47" style="left:548.70px;top:461.93px;font-size:38.00px;line-height:38.00px;color:#0F0C4D">366</div>
<div class="t b" id="t48" style="left:693.50px;top:461.93px;font-size:38.00px;line-height:38.00px;color:#0F0C4D">1.068</div>
<div class="t b" id="t49" style="left:876.30px;top:461.93px;font-size:38.00px;line-height:38.00px;color:#0F0C4D">7.685</div>
<div class="t b" id="t50" style="left:1037.20px;top:461.93px;font-size:38.00px;line-height:38.00px;color:#0F0C4D">17.714</div>
<div class="t b" id="t51" style="left:1219.40px;top:461.93px;font-size:38.00px;line-height:38.00px;color:#0F0C4D">26.351</div>
<div class="t b" id="t52" style="left:1391.65px;top:461.93px;font-size:38.00px;line-height:38.00px;color:#0F0C4D">2,8</div>
<div class="t b" id="t53" style="left:1552.95px;top:461.93px;font-size:38.00px;line-height:38.00px;color:#0F0C4D">3,2</div>
<div class="t b" id="t54" style="left:1714.05px;top:461.93px;font-size:38.00px;line-height:38.00px;color:#0F0C4D">8,5</div>
<div class="t b" id="t55" style="left:1880.85px;top:461.93px;font-size:38.00px;line-height:38.00px;color:#0F0C4D">9,9</div>
<div class="t b" id="t56" style="left:30.15px;top:537.73px;font-size:38.00px;line-height:38.00px;color:#0F0C4D">4</div>
<div class="t r" id="t57" style="left:106.90px;top:537.73px;font-size:38.00px;line-height:38.00px;color:#0F0C4D">4</div>
<div class="t b" id="t58" style="left:158.90px;top:537.73px;transform:scaleX(0.9496);transform-origin:0 0;font-size:38.00px;line-height:38.00px;color:#0F0C4D">Ρωσία</div>
<div class="t b" id="t59" style="left:480.51px;top:537.73px;transform:scaleX(0.9470);transform-origin:0 0;font-size:38.00px;line-height:38.00px;color:#0F0C4D">no data</div>
<div class="t b" id="t60" style="left:693.50px;top:537.73px;font-size:38.00px;line-height:38.00px;color:#0F0C4D">1.621</div>
<div class="t b" id="t61" style="left:876.30px;top:537.73px;font-size:38.00px;line-height:38.00px;color:#0F0C4D">3.673</div>
<div class="t b" id="t62" style="left:1059.20px;top:537.73px;font-size:38.00px;line-height:38.00px;color:#0F0C4D">7.143</div>
<div class="t b" id="t63" style="left:1240.40px;top:537.73px;font-size:38.00px;line-height:38.00px;color:#0F0C4D">8.218</div>
<div class="t b" id="t64" style="left:1401.49px;top:537.73px;transform:scaleX(1.1105);transform-origin:0 0;font-size:38.00px;line-height:38.00px;color:#0F0C4D">–</div>
<div class="t b" id="t65" style="left:1553.45px;top:537.73px;font-size:38.00px;line-height:38.00px;color:#0F0C4D">4,9</div>
<div class="t b" id="t66" style="left:1713.55px;top:537.73px;font-size:38.00px;line-height:38.00px;color:#0F0C4D">3,4</div>
<div class="t b" id="t67" style="left:1880.85px;top:537.73px;font-size:38.00px;line-height:38.00px;color:#0F0C4D">3,1</div>
<div class="t b" id="t68" style="left:30.15px;top:612.23px;font-size:38.00px;line-height:38.00px;color:#0F0C4D">5</div>
<div class="t r" id="t69" style="left:106.40px;top:612.23px;font-size:38.00px;line-height:38.00px;color:#0F0C4D">5</div>
<div class="t b" id="t70" style="left:158.86px;top:612.23px;transform:scaleX(0.9721);transform-origin:0 0;font-size:38.00px;line-height:38.00px;color:#0F0C4D">Ιαπωνία</div>
<div class="t b" id="t71" style="left:516.70px;top:612.23px;font-size:38.00px;line-height:38.00px;color:#0F0C4D">1.028</div>
<div class="t b" id="t72" style="left:693.50px;top:612.23px;font-size:38.00px;line-height:38.00px;color:#0F0C4D">2.657</div>
<div class="t b" id="t73" style="left:875.30px;top:612.23px;font-size:38.00px;line-height:38.00px;color:#0F0C4D">5.084</div>
<div class="t b" id="t74" style="left:1059.20px;top:612.23px;font-size:38.00px;line-height:38.00px;color:#0F0C4D">6.758</div>
<div class="t b" id="t75" style="left:1240.40px;top:612.23px;font-size:38.00px;line-height:38.00px;color:#0F0C4D">7.580</div>
<div class="t b" id="t76" style="left:1391.65px;top:612.23px;font-size:38.00px;line-height:38.00px;color:#0F0C4D">7,8</div>
<div class="t b" id="t77" style="left:1552.95px;top:612.23px;font-size:38.00px;line-height:38.00px;color:#0F0C4D">8,0</div>
<div class="t b" id="t78" style="left:1714.05px;top:612.23px;font-size:38.00px;line-height:38.00px;color:#0F0C4D">3,2</div>
<div class="t b" id="t79" style="left:1880.85px;top:612.23px;font-size:38.00px;line-height:38.00px;color:#0F0C4D">2,9</div>
<div class="t b" id="t80" style="left:30.15px;top:687.73px;font-size:38.00px;line-height:38.00px;color:#0F0C4D">6</div>
<div class="t r" id="t81" style="left:106.40px;top:687.73px;font-size:38.00px;line-height:38.00px;color:#0F0C4D">6</div>
<div class="t b" id="t82" style="left:158.86px;top:687.73px;transform:scaleX(0.9720);transform-origin:0 0;font-size:38.00px;line-height:38.00px;color:#0F0C4D">Γερμανία</div>
<div class="t b" id="t83" style="left:548.70px;top:687.73px;font-size:38.00px;line-height:38.00px;color:#0F0C4D">923</div>
<div class="t b" id="t84" style="left:693.50px;top:687.73px;font-size:38.00px;line-height:38.00px;color:#0F0C4D">1.977</div>
<div class="t b" id="t85" style="left:876.30px;top:687.73px;font-size:38.00px;line-height:38.00px;color:#0F0C4D">4.277</div>
<div class="t b" id="t86" style="left:1058.20px;top:687.73px;font-size:38.00px;line-height:38.00px;color:#0F0C4D">6.154</div>
<div class="t b" id="t87" style="left:1240.40px;top:687.73px;font-size:38.00px;line-height:38.00px;color:#0F0C4D">7.071</div>
<div class="t b" id="t88" style="left:1391.65px;top:687.73px;font-size:38.00px;line-height:38.00px;color:#0F0C4D">7,0</div>
<div class="t b" id="t89" style="left:1552.95px;top:687.73px;font-size:38.00px;line-height:38.00px;color:#0F0C4D">6,0</div>
<div class="t b" id="t90" style="left:1714.05px;top:687.73px;font-size:38.00px;line-height:38.00px;color:#0F0C4D">2,9</div>
<div class="t b" id="t91" style="left:1880.85px;top:687.73px;font-size:38.00px;line-height:38.00px;color:#0F0C4D">2,7</div>
<div class="t b" id="t92" style="left:30.15px;top:762.53px;font-size:38.00px;line-height:38.00px;color:#0F0C4D">7</div>
<div class="t r" id="t93" style="left:106.90px;top:762.53px;font-size:38.00px;line-height:38.00px;color:#0F0C4D">7</div>
<div class="t b" id="t94" style="left:158.86px;top:762.53px;transform:scaleX(0.9678);transform-origin:0 0;font-size:38.00px;line-height:38.00px;color:#0F0C4D">Ινδονησία</div>
<div class="t b" id="t95" style="left:547.70px;top:762.53px;font-size:38.00px;line-height:38.00px;color:#0F0C4D">164</div>
<div class="t b" id="t96" style="left:725.50px;top:762.53px;font-size:38.00px;line-height:38.00px;color:#0F0C4D">563</div>
<div class="t b" id="t97" style="left:876.30px;top:762.53px;font-size:38.00px;line-height:38.00px;color:#0F0C4D">2.672</div>
<div class="t b" id="t98" style="left:1059.20px;top:762.53px;font-size:38.00px;line-height:38.00px;color:#0F0C4D">5.016</div>
<div class="t b" id="t99" style="left:1240.40px;top:762.53px;font-size:38.00px;line-height:38.00px;color:#0F0C4D">6.987</div>
<div class="t b" id="t100" style="left:1391.15px;top:762.53px;font-size:38.00px;line-height:38.00px;color:#0F0C4D">1,2</div>
<div class="t b" id="t101" style="left:1552.45px;top:762.53px;font-size:38.00px;line-height:38.00px;color:#0F0C4D">1,7</div>
<div class="t b" id="t102" style="left:1713.55px;top:762.53px;font-size:38.00px;line-height:38.00px;color:#0F0C4D">2,4</div>
<div class="t b" id="t103" style="left:1880.85px;top:762.53px;font-size:38.00px;line-height:38.00px;color:#0F0C4D">2,6</div>
<div class="t b" id="t104" style="left:30.15px;top:837.43px;font-size:38.00px;line-height:38.00px;color:#0F0C4D">8</div>
<div class="t r" id="t105" style="left:106.40px;top:837.43px;font-size:38.00px;line-height:38.00px;color:#0F0C4D">8</div>
<div class="t b" id="t106" style="left:158.84px;top:837.43px;transform:scaleX(0.9818);transform-origin:0 0;font-size:38.00px;line-height:38.00px;color:#0F0C4D">Βραζιλία</div>
<div class="t b" id="t107" style="left:547.70px;top:837.43px;font-size:38.00px;line-height:38.00px;color:#0F0C4D">525</div>
<div class="t b" id="t108" style="left:724.50px;top:837.43px;font-size:38.00px;line-height:38.00px;color:#0F0C4D">981</div>
<div class="t b" id="t109" style="left:876.30px;top:837.43px;font-size:38.00px;line-height:38.00px;color:#0F0C4D">2.890</div>
<div class="t b" id="t110" style="left:1059.20px;top:837.43px;font-size:38.00px;line-height:38.00px;color:#0F0C4D">4.973</div>
<div class="t b" id="t111" style="left:1240.40px;top:837.43px;font-size:38.00px;line-height:38.00px;color:#0F0C4D">6.070</div>
<div class="t b" id="t112" style="left:1392.15px;top:837.43px;font-size:38.00px;line-height:38.00px;color:#0F0C4D">4,0</div>
<div class="t b" id="t113" style="left:1552.95px;top:837.43px;font-size:38.00px;line-height:38.00px;color:#0F0C4D">3,0</div>
<div class="t b" id="t114" style="left:1713.55px;top:837.43px;font-size:38.00px;line-height:38.00px;color:#0F0C4D">2,4</div>
<div class="t b" id="t115" style="left:1880.85px;top:837.43px;font-size:38.00px;line-height:38.00px;color:#0F0C4D">2,3</div>
<div class="t b" id="t116" style="left:30.15px;top:912.23px;font-size:38.00px;line-height:38.00px;color:#0F0C4D">9</div>
<div class="t r" id="t117" style="left:106.90px;top:912.23px;font-size:38.00px;line-height:38.00px;color:#0F0C4D">9</div>
<div class="t b" id="t118" style="left:158.86px;top:912.23px;transform:scaleX(0.9708);transform-origin:0 0;font-size:38.00px;line-height:38.00px;color:#0F0C4D">Γαλλία</div>
<div class="t b" id="t119" style="left:548.70px;top:912.23px;font-size:38.00px;line-height:38.00px;color:#0F0C4D">593</div>
<div class="t b" id="t120" style="left:693.50px;top:912.23px;font-size:38.00px;line-height:38.00px;color:#0F0C4D">1.242</div>
<div class="t b" id="t121" style="left:876.30px;top:912.23px;font-size:38.00px;line-height:38.00px;color:#0F0C4D">2.859</div>
<div class="t b" id="t122" style="left:1058.20px;top:912.23px;font-size:38.00px;line-height:38.00px;color:#0F0C4D">4.534</div>
<div class="t b" id="t123" style="left:1240.40px;top:912.23px;font-size:38.00px;line-height:38.00px;color:#0F0C4D">5.238</div>
<div class="t b" id="t124" style="left:1392.15px;top:912.23px;font-size:38.00px;line-height:38.00px;color:#0F0C4D">4,5</div>
<div class="t b" id="t125" style="left:1552.95px;top:912.23px;font-size:38.00px;line-height:38.00px;color:#0F0C4D">3,8</div>
<div class="t b" id="t126" style="left:1714.05px;top:912.23px;font-size:38.00px;line-height:38.00px;color:#0F0C4D">2,2</div>
<div class="t b" id="t127" style="left:1880.85px;top:912.23px;font-size:38.00px;line-height:38.00px;color:#0F0C4D">2,0</div>
<div class="t b" id="t128" style="left:19.15px;top:986.63px;font-size:38.00px;line-height:38.00px;color:#0F0C4D">10</div>
<div class="t r" id="t129" style="left:95.40px;top:986.63px;font-size:38.00px;line-height:38.00px;color:#0F0C4D">10</div>
<div class="t b" id="t130" style="left:158.85px;top:986.63px;transform:scaleX(0.9753);transform-origin:0 0;font-size:38.00px;line-height:38.00px;color:#0F0C4D">Ην. Βασίλειο</div>
<div class="t b" id="t131" style="left:548.70px;top:986.63px;font-size:38.00px;line-height:38.00px;color:#0F0C4D">529</div>
<div class="t b" id="t132" style="left:693.50px;top:986.63px;font-size:38.00px;line-height:38.00px;color:#0F0C4D">1.101</div>
<div class="t b" id="t133" style="left:878.30px;top:986.63px;font-size:38.00px;line-height:38.00px;color:#0F0C4D">2.911</div>
<div class="t b" id="t134" style="left:1059.20px;top:986.63px;font-size:38.00px;line-height:38.00px;color:#0F0C4D">4.455</div>
<div class="t b" id="t135" style="left:1240.40px;top:986.63px;font-size:38.00px;line-height:38.00px;color:#0F0C4D">5.213</div>
<div class="t b" id="t136" style="left:1392.15px;top:986.63px;font-size:38.00px;line-height:38.00px;color:#0F0C4D">4,0</div>
<div class="t b" id="t137" style="left:1552.95px;top:986.63px;font-size:38.00px;line-height:38.00px;color:#0F0C4D">3,3</div>
<div class="t b" id="t138" style="left:1714.05px;top:986.63px;font-size:38.00px;line-height:38.00px;color:#0F0C4D">2,1</div>
<div class="t b" id="t139" style="left:1880.85px;top:986.63px;font-size:38.00px;line-height:38.00px;color:#0F0C4D">2,0</div>
<div class="t b" id="t140" style="left:20.15px;top:1060.73px;font-size:38.00px;line-height:38.00px;color:#0F0C4D">11</div>
<div class="t r" id="t141" style="left:96.90px;top:1060.73px;font-size:38.00px;line-height:38.00px;color:#0F0C4D">11</div>
<div class="t b" id="t142" style="left:159.20px;top:1060.73px;transform:scaleX(0.9708);transform-origin:0 0;font-size:38.00px;line-height:38.00px;color:#0F0C4D">Τουρκία</div>
<div class="t b" id="t143" style="left:547.70px;top:1060.73px;font-size:38.00px;line-height:38.00px;color:#0F0C4D">161</div>
<div class="t b" id="t144" style="left:724.50px;top:1060.73px;font-size:38.00px;line-height:38.00px;color:#0F0C4D">455</div>
<div class="t b" id="t145" style="left:876.30px;top:1060.73px;font-size:38.00px;line-height:38.00px;color:#0F0C4D">2.075</div>
<div class="t b" id="t146" style="left:1059.20px;top:1060.73px;font-size:38.00px;line-height:38.00px;color:#0F0C4D">3.767</div>
<div class="t b" id="t147" style="left:1240.40px;top:1060.73px;font-size:38.00px;line-height:38.00px;color:#0F0C4D">4.942</div>
<div class="t b" id="t148" style="left:1391.15px;top:1060.73px;font-size:38.00px;line-height:38.00px;color:#0F0C4D">1,2</div>
<div class="t b" id="t149" style="left:1551.95px;top:1060.73px;font-size:38.00px;line-height:38.00px;color:#0F0C4D">1,4</div>
<div class="t b" id="t150" style="left:1713.55px;top:1060.73px;font-size:38.00px;line-height:38.00px;color:#0F0C4D">1,8</div>
<div class="t b" id="t151" style="left:1880.35px;top:1060.73px;font-size:38.00px;line-height:38.00px;color:#0F0C4D">1,9</div>
<div class="t b" id="t152" style="left:19.15px;top:1138.53px;font-size:38.00px;line-height:38.00px;color:#0F0C4D">12</div>
<div class="t r" id="t153" style="left:95.40px;top:1138.53px;font-size:38.00px;line-height:38.00px;color:#0F0C4D">12</div>
<div class="t b" id="t154" style="left:158.75px;top:1138.53px;transform:scaleX(1.0243);transform-origin:0 0;font-size:38.00px;line-height:38.00px;color:#0F0C4D">Ιταλία</div>
<div class="t b" id="t155" style="left:548.70px;top:1138.53px;font-size:38.00px;line-height:38.00px;color:#0F0C4D">623</div>
<div class="t b" id="t156" style="left:693.50px;top:1138.53px;font-size:38.00px;line-height:38.00px;color:#0F0C4D">1.338</div>
<div class="t b" id="t157" style="left:876.30px;top:1138.53px;font-size:38.00px;line-height:38.00px;color:#0F0C4D">2.445</div>
<div class="t b" id="t158" style="left:1059.20px;top:1138.53px;font-size:38.00px;line-height:38.00px;color:#0F0C4D">3.720</div>
<div class="t b" id="t159" style="left:1240.40px;top:1138.53px;font-size:38.00px;line-height:38.00px;color:#0F0C4D">4.198</div>
<div class="t b" id="t160" style="left:1392.15px;top:1138.53px;font-size:38.00px;line-height:38.00px;color:#0F0C4D">4,7</div>
<div class="t b" id="t161" style="left:1553.45px;top:1138.53px;font-size:38.00px;line-height:38.00px;color:#0F0C4D">4,0</div>
<div class="t b" id="t162" style="left:1713.55px;top:1138.53px;font-size:38.00px;line-height:38.00px;color:#0F0C4D">1,8</div>
<div class="t b" id="t163" style="left:1880.35px;top:1138.53px;font-size:38.00px;line-height:38.00px;color:#0F0C4D">1,6</div>
<div class="t b" id="t164" style="left:19.15px;top:1209.93px;font-size:38.00px;line-height:38.00px;color:#0F0C4D">13</div>
<div class="t r" id="t165" style="left:95.40px;top:1209.93px;font-size:38.00px;line-height:38.00px;color:#0F0C4D">13</div>
<div class="t b" id="t166" style="left:158.73px;top:1209.93px;transform:scaleX(1.0368);transform-origin:0 0;font-size:38.00px;line-height:38.00px;color:#0F0C4D">Μεξικό</div>
<div class="t b" id="t167" style="left:548.70px;top:1209.93px;font-size:38.00px;line-height:38.00px;color:#0F0C4D">442</div>
<div class="t b" id="t168" style="left:725.50px;top:1209.93px;font-size:38.00px;line-height:38.00px;color:#0F0C4D">903</div>
<div class="t b" id="t169" style="left:876.30px;top:1209.93px;font-size:38.00px;line-height:38.00px;color:#0F0C4D">2.438</div>
<div class="t b" id="t170" style="left:1059.20px;top:1209.93px;font-size:38.00px;line-height:38.00px;color:#0F0C4D">3.437</div>
<div class="t b" id="t171" style="left:1240.40px;top:1209.93px;font-size:38.00px;line-height:38.00px;color:#0F0C4D">4.133</div>
<div class="t b" id="t172" style="left:1391.65px;top:1209.93px;font-size:38.00px;line-height:38.00px;color:#0F0C4D">3,3</div>
<div class="t b" id="t173" style="left:1552.95px;top:1209.93px;font-size:38.00px;line-height:38.00px;color:#0F0C4D">2,7</div>
<div class="t b" id="t174" style="left:1713.55px;top:1209.93px;font-size:38.00px;line-height:38.00px;color:#0F0C4D">1,6</div>
<div class="t b" id="t175" style="left:1880.35px;top:1209.93px;font-size:38.00px;line-height:38.00px;color:#0F0C4D">1,6</div>
<div class="t b" id="t176" style="left:18.65px;top:1287.53px;font-size:38.00px;line-height:38.00px;color:#0F0C4D">14</div>
<div class="t r" id="t177" style="left:95.40px;top:1287.53px;font-size:38.00px;line-height:38.00px;color:#0F0C4D">14</div>
<div class="t b" id="t178" style="left:158.83px;top:1287.53px;transform:scaleX(0.9843);transform-origin:0 0;font-size:38.00px;line-height:38.00px;color:#0F0C4D">Νότια Κορέα</div>
<div class="t b" id="t179" style="left:568.70px;top:1287.53px;font-size:38.00px;line-height:38.00px;color:#0F0C4D">84</div>
<div class="t b" id="t180" style="left:724.50px;top:1287.53px;font-size:38.00px;line-height:38.00px;color:#0F0C4D">414</div>
<div class="t b" id="t181" style="left:876.30px;top:1287.53px;font-size:38.00px;line-height:38.00px;color:#0F0C4D">2.105</div>
<div class="t b" id="t182" style="left:1059.20px;top:1287.53px;font-size:38.00px;line-height:38.00px;color:#0F0C4D">3.363</div>
<div class="t b" id="t183" style="left:1240.40px;top:1287.53px;font-size:38.00px;line-height:38.00px;color:#0F0C4D">4.052</div>
<div class="t b" id="t184" style="left:1391.65px;top:1287.53px;font-size:38.00px;line-height:38.00px;color:#0F0C4D">0,6</div>
<div class="t b" id="t185" style="left:1552.45px;top:1287.53px;font-size:38.00px;line-height:38.00px;color:#0F0C4D">1,3</div>
<div class="t b" id="t186" style="left:1713.55px;top:1287.53px;font-size:38.00px;line-height:38.00px;color:#0F0C4D">1,6</div>
<div class="t b" id="t187" style="left:1880.35px;top:1287.53px;font-size:38.00px;line-height:38.00px;color:#0F0C4D">1,5</div>
<div class="t b" id="t188" style="left:18.65px;top:1362.83px;font-size:38.00px;line-height:38.00px;color:#0F0C4D">15</div>
<div class="t r" id="t189" style="left:95.40px;top:1362.83px;font-size:38.00px;line-height:38.00px;color:#0F0C4D">16</div>
<div class="t b" id="t190" style="left:158.88px;top:1362.83px;transform:scaleX(0.9624);transform-origin:0 0;font-size:38.00px;line-height:38.00px;color:#0F0C4D">Ισπανία</div>
<div class="t b" id="t191" style="left:547.70px;top:1362.83px;font-size:38.00px;line-height:38.00px;color:#0F0C4D">314</div>
<div class="t b" id="t192" style="left:725.50px;top:1362.83px;font-size:38.00px;line-height:38.00px;color:#0F0C4D">693</div>
<div class="t b" id="t193" style="left:876.30px;top:1362.83px;font-size:38.00px;line-height:38.00px;color:#0F0C4D">1.771</div>
<div class="t b" id="t194" style="left:1059.20px;top:1362.83px;font-size:38.00px;line-height:38.00px;color:#0F0C4D">2.829</div>
<div class="t b" id="t195" style="left:1240.40px;top:1362.83px;font-size:38.00px;line-height:38.00px;color:#0F0C4D">3.355</div>
<div class="t b" id="t196" style="left:1391.15px;top:1362.83px;font-size:38.00px;line-height:38.00px;color:#0F0C4D">2,4</div>
<div class="t b" id="t197" style="left:1552.95px;top:1362.83px;font-size:38.00px;line-height:38.00px;color:#0F0C4D">2,1</div>
<div class="t b" id="t198" style="left:1713.05px;top:1362.83px;font-size:38.00px;line-height:38.00px;color:#0F0C4D">1,4</div>
<div class="t b" id="t199" style="left:1880.35px;top:1362.83px;font-size:38.00px;line-height:38.00px;color:#0F0C4D">1,3</div>
<div class="t b" id="t200" style="left:19.15px;top:1438.43px;font-size:38.00px;line-height:38.00px;color:#0F0C4D">16</div>
<div class="t r" id="t201" style="left:95.40px;top:1438.43px;font-size:38.00px;line-height:38.00px;color:#0F0C4D">18</div>
<div class="t b" id="t202" style="left:158.84px;top:1438.43px;transform:scaleX(0.9783);transform-origin:0 0;font-size:38.00px;line-height:38.00px;color:#0F0C4D">Καναδάς</div>
<div class="t b" id="t203" style="left:548.70px;top:1438.43px;font-size:38.00px;line-height:38.00px;color:#0F0C4D">290</div>
<div class="t b" id="t204" style="left:725.50px;top:1438.43px;font-size:38.00px;line-height:38.00px;color:#0F0C4D">593</div>
<div class="t b" id="t205" style="left:875.30px;top:1438.43px;font-size:38.00px;line-height:38.00px;color:#0F0C4D">1.684</div>
<div class="t b" id="t206" style="left:1059.20px;top:1438.43px;font-size:38.00px;line-height:38.00px;color:#0F0C4D">2.723</div>
<div class="t b" id="t207" style="left:1240.40px;top:1438.43px;font-size:38.00px;line-height:38.00px;color:#0F0C4D">3.229</div>
<div class="t b" id="t208" style="left:1391.65px;top:1438.43px;font-size:38.00px;line-height:38.00px;color:#0F0C4D">2,2</div>
<div class="t b" id="t209" style="left:1552.45px;top:1438.43px;font-size:38.00px;line-height:38.00px;color:#0F0C4D">1,8</div>
<div class="t b" id="t210" style="left:1713.55px;top:1438.43px;font-size:38.00px;line-height:38.00px;color:#0F0C4D">1,3</div>
<div class="t b" id="t211" style="left:1880.35px;top:1438.43px;font-size:38.00px;line-height:38.00px;color:#0F0C4D">1,2</div>
<div class="t b" id="t212" style="left:19.15px;top:1513.03px;font-size:38.00px;line-height:38.00px;color:#0F0C4D">17</div>
<div class="t r" id="t213" style="left:95.40px;top:1513.03px;font-size:38.00px;line-height:38.00px;color:#0F0C4D">15</div>
<div class="t b" id="t214" style="left:158.20px;top:1513.03px;transform:scaleX(0.9973);transform-origin:0 0;font-size:38.00px;line-height:38.00px;color:#0F0C4D">Σαουδ. Αραβία</div>
<div class="t b" id="t215" style="left:548.70px;top:1513.03px;font-size:38.00px;line-height:38.00px;color:#0F0C4D">319</div>
<div class="t b" id="t216" style="left:724.50px;top:1513.03px;font-size:38.00px;line-height:38.00px;color:#0F0C4D">451</div>
<div class="t b" id="t217" style="left:876.30px;top:1513.03px;font-size:38.00px;line-height:38.00px;color:#0F0C4D">1.598</div>
<div class="t b" id="t218" style="left:1059.20px;top:1513.03px;font-size:38.00px;line-height:38.00px;color:#0F0C4D">2.689</div>
<div class="t b" id="t219" style="left:1240.40px;top:1513.03px;font-size:38.00px;line-height:38.00px;color:#0F0C4D">3.470</div>
<div class="t b" id="t220" style="left:1391.15px;top:1513.03px;font-size:38.00px;line-height:38.00px;color:#0F0C4D">2,4</div>
<div class="t b" id="t221" style="left:1551.95px;top:1513.03px;font-size:38.00px;line-height:38.00px;color:#0F0C4D">1,4</div>
<div class="t b" id="t222" style="left:1713.55px;top:1513.03px;font-size:38.00px;line-height:38.00px;color:#0F0C4D">1,3</div>
<div class="t b" id="t223" style="left:1880.35px;top:1513.03px;font-size:38.00px;line-height:38.00px;color:#0F0C4D">1,3</div>
<div class="t b" id="t224" style="left:19.15px;top:1587.83px;font-size:38.00px;line-height:38.00px;color:#0F0C4D">18</div>
<div class="t r" id="t225" style="left:95.40px;top:1587.83px;font-size:38.00px;line-height:38.00px;color:#0F0C4D">17</div>
<div class="t b" id="t226" style="left:158.26px;top:1587.83px;transform:scaleX(0.9437);transform-origin:0 0;font-size:38.00px;line-height:38.00px;color:#0F0C4D">Αίγυπτος</div>
<div class="t b" id="t227" style="left:569.70px;top:1587.83px;font-size:38.00px;line-height:38.00px;color:#0F0C4D">88</div>
<div class="t b" id="t228" style="left:725.50px;top:1587.83px;font-size:38.00px;line-height:38.00px;color:#0F0C4D">238</div>
<div class="t b" id="t229" style="left:876.30px;top:1587.83px;font-size:38.00px;line-height:38.00px;color:#0F0C4D">1.088</div>
<div class="t b" id="t230" style="left:1059.20px;top:1587.83px;font-size:38.00px;line-height:38.00px;color:#0F0C4D">2.382</div>
<div class="t b" id="t231" style="left:1240.40px;top:1587.83px;font-size:38.00px;line-height:38.00px;color:#0F0C4D">3.298</div>
<div class="t b" id="t232" style="left:1391.65px;top:1587.83px;font-size:38.00px;line-height:38.00px;color:#0F0C4D">0,7</div>
<div class="t b" id="t233" style="left:1552.95px;top:1587.83px;font-size:38.00px;line-height:38.00px;color:#0F0C4D">0,7</div>
<div class="t b" id="t234" style="left:1713.55px;top:1587.83px;font-size:38.00px;line-height:38.00px;color:#0F0C4D">1,1</div>
<div class="t b" id="t235" style="left:1880.35px;top:1587.83px;font-size:38.00px;line-height:38.00px;color:#0F0C4D">1,2</div>
<div class="t b" id="t236" style="left:19.15px;top:1663.33px;font-size:38.00px;line-height:38.00px;color:#0F0C4D">19</div>
<div class="t r" id="t237" style="left:95.40px;top:1663.33px;font-size:38.00px;line-height:38.00px;color:#0F0C4D">19</div>
<div class="t b" id="t238" style="left:158.82px;top:1663.33px;transform:scaleX(0.9906);transform-origin:0 0;font-size:38.00px;line-height:38.00px;color:#0F0C4D">Νιγηρία</div>
<div class="t b" id="t239" style="left:480.51px;top:1663.33px;transform:scaleX(0.9470);transform-origin:0 0;font-size:38.00px;line-height:38.00px;color:#0F0C4D">no data</div>
<div class="t b" id="t240" style="left:724.50px;top:1663.33px;font-size:38.00px;line-height:38.00px;color:#0F0C4D">251</div>
<div class="t b" id="t241" style="left:876.30px;top:1663.33px;font-size:38.00px;line-height:38.00px;color:#0F0C4D">1.373</div>
<div class="t b" id="t242" style="left:1058.20px;top:1663.33px;font-size:38.00px;line-height:38.00px;color:#0F0C4D">2.254</div>
<div class="t b" id="t243" style="left:1239.40px;top:1663.33px;font-size:38.00px;line-height:38.00px;color:#0F0C4D">2.994</div>
<div class="t b" id="t244" style="left:1401.49px;top:1663.33px;transform:scaleX(1.1105);transform-origin:0 0;font-size:38.00px;line-height:38.00px;color:#0F0C4D">–</div>
<div class="t b" id="t245" style="left:1552.95px;top:1663.33px;font-size:38.00px;line-height:38.00px;color:#0F0C4D">0,8</div>
<div class="t b" id="t246" style="left:1713.55px;top:1663.33px;font-size:38.00px;line-height:38.00px;color:#0F0C4D">1,1</div>
<div class="t b" id="t247" style="left:1880.35px;top:1663.33px;font-size:38.00px;line-height:38.00px;color:#0F0C4D">1,1</div>
<div class="t b" id="t248" style="left:19.65px;top:1739.13px;font-size:38.00px;line-height:38.00px;color:#0F0C4D">20</div>
<div class="t r" id="t249" style="left:95.90px;top:1739.13px;font-size:38.00px;line-height:38.00px;color:#0F0C4D">21</div>
<div class="t b" id="t250" style="left:158.87px;top:1739.13px;transform:scaleX(0.9654);transform-origin:0 0;font-size:38.00px;line-height:38.00px;color:#0F0C4D">Πολωνία</div>
<div class="t b" id="t251" style="left:548.70px;top:1739.13px;font-size:38.00px;line-height:38.00px;color:#0F0C4D">173</div>
<div class="t b" id="t252" style="left:725.50px;top:1739.13px;font-size:38.00px;line-height:38.00px;color:#0F0C4D">258</div>
<div class="t b" id="t253" style="left:876.30px;top:1739.13px;font-size:38.00px;line-height:38.00px;color:#0F0C4D">1.070</div>
<div class="t b" id="t254" style="left:1059.20px;top:1739.13px;font-size:38.00px;line-height:38.00px;color:#0F0C4D">2.020</div>
<div class="t b" id="t255" style="left:1240.40px;top:1739.13px;font-size:38.00px;line-height:38.00px;color:#0F0C4D">2.529</div>
<div class="t b" id="t256" style="left:1391.15px;top:1739.13px;font-size:38.00px;line-height:38.00px;color:#0F0C4D">1,3</div>
<div class="t b" id="t257" style="left:1552.95px;top:1739.13px;font-size:38.00px;line-height:38.00px;color:#0F0C4D">0,8</div>
<div class="t b" id="t258" style="left:1713.55px;top:1739.13px;font-size:38.00px;line-height:38.00px;color:#0F0C4D">1,0</div>
<div class="t b" id="t259" style="left:1880.35px;top:1739.13px;font-size:38.00px;line-height:38.00px;color:#0F0C4D">1,0</div>
<div class="t b" id="t260" style="left:19.65px;top:1808.93px;font-size:38.00px;line-height:38.00px;color:#843C0C">56</div>
<div class="t r" id="t261" style="left:95.90px;top:1808.93px;font-size:38.00px;line-height:38.00px;color:#843C0C">59</div>
<div class="t b" id="t262" style="left:159.18px;top:1808.93px;transform:scaleX(0.9612);transform-origin:0 0;font-size:38.00px;line-height:38.00px;color:#843C0C">Ελλάδα</div>
<div class="t b" id="t263" style="left:569.70px;top:1808.93px;font-size:38.00px;line-height:38.00px;color:#0F0C4D">90</div>
<div class="t b" id="t264" style="left:725.50px;top:1808.93px;font-size:38.00px;line-height:38.00px;color:#0F0C4D">160</div>
<div class="t b" id="t265" style="left:908.30px;top:1808.93px;font-size:38.00px;line-height:38.00px;color:#0F0C4D">299</div>
<div class="t b" id="t266" style="left:1091.20px;top:1808.93px;font-size:38.00px;line-height:38.00px;color:#0F0C4D">467</div>
<div class="t b" id="t267" style="left:1272.40px;top:1808.93px;font-size:38.00px;line-height:38.00px;color:#0F0C4D">552</div>
<div class="t b" id="t268" style="left:1391.65px;top:1808.93px;font-size:38.00px;line-height:38.00px;color:#0F0C4D">0,7</div>
<div class="t b" id="t269" style="left:1552.95px;top:1808.93px;font-size:38.00px;line-height:38.00px;color:#0F0C4D">0,5</div>
<div class="t b" id="t270" style="left:1714.05px;top:1808.93px;font-size:38.00px;line-height:38.00px;color:#0F0C4D">0,2</div>
<div class="t b" id="t271" style="left:1880.85px;top:1808.93px;font-size:38.00px;line-height:38.00px;color:#0F0C4D">0,2</div>
<div class="t b" id="t272" style="left:159.28px;top:1883.93px;transform:scaleX(0.9122);transform-origin:0 0;font-size:38.00px;line-height:38.00px;color:#0F0C4D">Κόσμος</div>
<div class="t b" id="t273" style="left:497.70px;top:1883.93px;font-size:38.00px;line-height:38.00px;color:#0F0C4D">13.211</div>
<div class="t b" id="t274" style="left:672.50px;top:1883.93px;font-size:38.00px;line-height:38.00px;color:#0F0C4D">33.038</div>
<div class="t b" id="t275" style="left:836.30px;top:1883.93px;font-size:38.00px;line-height:38.00px;color:#0F0C4D">118.062</div>
<div class="t b" id="t276" style="left:1017.20px;top:1883.93px;font-size:38.00px;line-height:38.00px;color:#0F0C4D">208.956</div>
<div class="t b" id="t277" style="left:1198.40px;top:1883.93px;font-size:38.00px;line-height:38.00px;color:#0F0C4D">265.663</div>
<div class="t b" id="t278" style="left:1370.15px;top:1883.93px;font-size:38.00px;line-height:38.00px;color:#0F0C4D">100,0</div>
<div class="t b" id="t279" style="left:1531.45px;top:1883.93px;font-size:38.00px;line-height:38.00px;color:#0F0C4D">100,0</div>
<div class="t b" id="t280" style="left:1692.55px;top:1883.93px;font-size:38.00px;line-height:38.00px;color:#0F0C4D">100,0</div>
<div class="t b" id="t281" style="left:1859.35px;top:1883.93px;font-size:38.00px;line-height:38.00px;color:#0F0C4D">100,0</div>
<div class="t r" id="t282" style="left:456.38px;top:2030.99px;transform:scaleX(1.0111);transform-origin:0 0;font-size:38.40px;line-height:38.40px;color:#0F0C4D">Source: IMF Datamapper, March 2026 (* εκτιμήσεις)</div>
</div>
</body></html>
